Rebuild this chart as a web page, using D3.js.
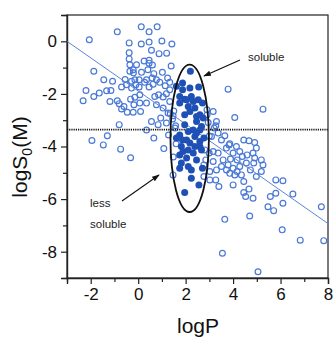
<html>
  <head>
    <meta charset="utf-8" />
    <style>
      body { margin: 0; background: #fff; }
      text { font-family: "Liberation Sans", Arial, sans-serif; }
    </style>
  </head>
  <body>
    <svg></svg>
    <script src="https://d3js.org/d3.v7.min.js"></script>
    <script>
      let width = 334,
        height = 337;

      // open circles (logP, logS0)
      let openX = [-2.06, -0.88, 0.13, 0.8, 0.46, -0.38, 0.13, 0.46, 1.0, 1.42, 0.88, 0.56, -0.38, -0.38, 0.46, 0.46,
        1.39, -1.87, -0.35, -0.21, -0.07, -0.35, 0.14, 0.41, 0.66, 1.02, 1.24, 0.77, 0.59, 0.35, 0.04, -0.14, -0.28,
        -1.45, -1.08, -2.2, -2.32, -1.87, -1.64, -1.33, -1.15, -1.19, -0.88, -0.8, -0.6, -0.7, -0.49, -0.28, -0.1,
        0.04, 0.27, 0.46, 0.63, 0.91, 1.14, 1.33, -0.32, -0.14, 0.07, -0.18, 0.07, -0.7, -0.46, -0.21, 0.1, 0.7, 0.86,
        1.05, 1.19, 1.33, 1.33, 1.05, 1.26, 0.95, 0.77, 0.35, -0.8, 0.35, 0.56, 0.84, 1.19, 1.47, 1.58, 1.28, 0.66,
        1.08, -1.95, -1.47, -1.3, -0.74, -0.32, 1.47, 3.79, 4.07, 5.26, 3.16, 3.3, 3.27, 2.95, 3.09, 3.37, 3.65, 3.83,
        3.72, 3.51, 3.86, 4.14, 4.45, 4.67, 4.91, 4.98, 4.84, 4.91, 4.28, 4.0, 3.89, 4.17, 4.39, 4.59, 4.56, 4.87,
        5.19, 5.26, 5.19, 4.98, 4.28, 4.17, 4.0, 3.79, 3.58, 3.37, 3.16, 2.99, 2.81, 2.85, 3.16, 3.3, 3.51, 3.72,
        3.02, 2.77, 3.02, 3.27, 3.4, 2.77, 4.0, 4.45, 4.45, 4.67, 4.53, 4.84, 4.7, 3.65, 3.55, 5.05, 5.8, 6.1, 5.57,
        5.8, 5.47, 5.71, 6.1, 6.52, 6.07, 6.83, 7.72, 7.82, 4.73, 4.35, 4.07, 3.86, 1.5, 1.45, 1.55, 1.6, 1.48,
        -0.55, -0.2, 0.25, 0.6, 1.2, 1.35, 2.9, 3.0, 3.2, 2.9];
      let openY = [0.06, 0.36, 0.55, 0.55, 0.36, -0.06, -0.1, -0.03, 0.01, -0.1, -0.47, -0.34, -0.44, -0.67, -0.72,
        -0.83, -0.94, -1.14, -0.89, -1.08, -0.89, -1.14, -1.18, -1.08, -1.23, -1.18, -1.4, -1.46, -1.4, -1.46, -1.46,
        -1.46, -1.52, -1.46, -1.52, -1.87, -2.26, -2.1, -1.97, -1.88, -1.87, -2.29, -2.26, -2.37, -2.48, -1.74, -1.65,
        -1.78, -1.65, -1.74, -1.56, -1.74, -1.63, -1.56, -1.69, -1.56, -2.2, -2.13, -2.03, -2.41, -2.35, -2.57, -2.7,
        -2.7, -2.67, -2.1, -2.03, -2.12, -1.99, -1.84, -2.29, -2.54, -2.73, -2.92, -2.41, -2.35, -3.17, -3.37, -3.05,
        -3.17, -3.11, -2.83, -3.21, -3.56, -3.68, -4.08, -3.77, -3.94, -3.59, -4.1, -4.43, -5.08, -1.82, -2.9, -2.58,
        -2.67, -3.05, -3.21, -3.09, -3.62, -3.49, -3.59, -3.94, -4.06, -3.75, -3.9, -4.0, -3.75, -3.78, -3.85, -4.06,
        -4.25, -4.44, -4.19, -4.25, -4.48, -4.51, -4.38, -4.32, -4.63, -4.63, -4.51, -4.7, -4.95, -5.14, -4.76, -4.95,
        -4.83, -4.7, -4.51, -4.25, -4.19, -4.25, -4.13, -4.51, -4.57, -4.89, -4.76, -4.89, -4.95, -4.7, -5.27, -5.27,
        -5.52, -5.14, -5.46, -5.33, -5.75, -5.62, -5.9, -5.97, -6.64, -6.77, -8.06, -8.76, -5.27, -5.3, -5.9, -5.78,
        -6.29, -6.44, -6.16, -5.81, -7.17, -7.56, -6.29, -7.58, -4.89, -5.08, -5.08, -5.02, -2.65, -2.95, -3.3,
        -3.9, -4.4, -1.45, -1.2, -0.75, -0.9, -0.45, -2.75, -2.8, -3.6, -3.3, -2.6];

      // filled circles (compounds inside the ellipse)
      let filledX = [2.2, 1.87, 2.18, 2.55, 1.61, 1.75, 1.96, 2.24, 2.53, 2.71, 1.75, 2.11, 2.39, 2.18, 2.6, 2.74,
        2.46, 2.67, 2.32, 1.96, 1.75, 1.61, 2.04, 2.39, 2.6, 2.77, 1.82, 2.11, 2.39, 2.67, 1.75, 2.04, 1.82, 2.11,
        1.75, 2.24, 2.24, 2.56, 1.96, 2.71, 2.6, 1.87, 2.04, 2.32, 1.96, 2.46, 2.11, 1.87, 2.32, 2.46, 1.89, 2.46,
        2.18, 2.6];
      let filledY = [-1.14, -1.59, -1.78, -1.74, -1.71, -2.1, -2.2, -2.1, -2.22, -2.35, -2.35, -2.48, -2.54, -2.67,
        -2.79, -2.92, -3.05, -3.24, -3.37, -3.17, -3.56, -3.68, -3.75, -3.62, -3.81, -3.68, -4.0, -4.13, -4.0, -4.13,
        -4.32, -4.44, -4.63, -4.76, -4.83, -4.89, -5.21, -5.46, -5.75, -4.83, -3.37, -1.84, -2.22, -2.29, -2.79,
        -2.86, -3.43, -3.75, -4.25, -4.51, -4.19, -3.49, -3.87, -4.0];

      let xTicks = [-2, 0, 2, 4, 6, 8];
      let yTicks = [0, -2, -4, -6, -8];

      // regression line, solubility threshold, ellipse
      let fitSlope = -0.63,
        fitIntercept = -1.89;
      let threshold = -3.36;
      let ellipse = { cx: 2.17, cy: -3.69, rx: 0.81, ry: 2.8 };

      let svg = d3.select("svg").attr("width", width).attr("height", height);

      let x = d3.scaleLinear().domain([-3, 8]).range([67, 328]);
      let y = d3.scaleLinear().domain([-9, 1]).range([278, 15]);

      svg.append("defs").append("marker")
        .attr("id", "arrow")
        .attr("viewBox", "0 0 10 10")
        .attr("refX", 9).attr("refY", 5)
        .attr("markerWidth", 7).attr("markerHeight", 7)
        .attr("orient", "auto")
        .append("path")
        .attr("d", "M0,1.5 L10,5 L0,8.5 Z")
        .attr("fill", "#111");

      // frame
      svg.append("rect")
        .attr("x", x(-3)).attr("y", y(1))
        .attr("width", x(8) - x(-3)).attr("height", y(-9) - y(1))
        .attr("fill", "none").attr("stroke", "#222").attr("stroke-width", 1.2);

      // axes
      let xAxis = svg.append("g")
        .attr("transform", `translate(0,${y(-9)})`)
        .call(d3.axisBottom(x).tickValues(d3.range(-3, 9)).tickSize(6).tickFormat(""));
      xAxis.selectAll(".tick line").attr("y2", (d) => (d % 2 === 0 ? 6 : 4));
      svg.append("g")
        .attr("transform", `translate(0,${y(-9)})`)
        .call(d3.axisBottom(x).tickValues(xTicks).tickSize(0).tickPadding(10).tickFormat((d) => String(d)))
        .call((g) => g.select(".domain").remove());

      let yAxis = svg.append("g")
        .attr("transform", `translate(${x(-3)},0)`)
        .call(d3.axisLeft(y).tickValues(d3.range(-9, 2)).tickSize(6).tickFormat(""));
      yAxis.selectAll(".tick line").attr("x2", (d) => (d % 2 === 0 ? -6 : -4));
      svg.append("g")
        .attr("transform", `translate(${x(-3)},0)`)
        .call(d3.axisLeft(y).tickValues(yTicks).tickSize(0).tickPadding(10).tickFormat((d) => String(d)))
        .call((g) => g.select(".domain").remove());

      svg.selectAll(".domain").attr("stroke", "#222").attr("stroke-width", 1.4);
      svg.selectAll(".tick line").attr("stroke", "#222").attr("stroke-width", 1.2);
      svg.selectAll(".tick text").attr("font-size", 17).attr("fill", "#111")
        .attr("font-family", "'Liberation Sans', Arial, sans-serif");

      // open circles
      svg.append("g").selectAll("circle")
        .data(openX.map((d, i) => [d, openY[i]]))
        .enter().append("circle")
        .attr("cx", (d) => x(d[0])).attr("cy", (d) => y(d[1]))
        .attr("r", 2.9)
        .attr("fill", "none")
        .attr("stroke", "#4a78d6")
        .attr("stroke-width", 1.2);

      // regression line
      svg.append("line")
        .attr("x1", x(-3)).attr("y1", y(fitSlope * -3 + fitIntercept))
        .attr("x2", x(8)).attr("y2", y(fitSlope * 8 + fitIntercept))
        .attr("stroke", "#5a85d8").attr("stroke-width", 1);

      // threshold
      svg.append("line")
        .attr("x1", x(-3)).attr("x2", x(8))
        .attr("y1", y(threshold)).attr("y2", y(threshold))
        .attr("stroke", "#111").attr("stroke-width", 1.6)
        .attr("stroke-dasharray", "1.2,1");

      // filled circles
      svg.append("g").selectAll("circle")
        .data(filledX.map((d, i) => [d, filledY[i]]))
        .enter().append("circle")
        .attr("cx", (d) => x(d[0])).attr("cy", (d) => y(d[1]))
        .attr("r", 3.5)
        .attr("fill", "#1f50b5");

      // ellipse
      svg.append("ellipse")
        .attr("cx", x(ellipse.cx)).attr("cy", y(ellipse.cy))
        .attr("rx", x(ellipse.cx + ellipse.rx) - x(ellipse.cx))
        .attr("ry", y(ellipse.cy - ellipse.ry) - y(ellipse.cy))
        .attr("fill", "none").attr("stroke", "#111").attr("stroke-width", 1.8);

      // annotations
      svg.append("text").attr("x", 248).attr("y", 61).attr("font-size", 11.5).attr("fill", "#222").text("soluble");
      svg.append("line").attr("x1", 240).attr("y1", 60).attr("x2", 204).attr("y2", 76)
        .attr("stroke", "#111").attr("stroke-width", 1.1).attr("marker-end", "url(#arrow)");
      svg.append("text").attr("x", 90).attr("y", 207).attr("font-size", 11.5).attr("fill", "#222").text("less");
      svg.append("text").attr("x", 90).attr("y", 228).attr("font-size", 11.5).attr("fill", "#222").text("soluble");
      svg.append("line").attr("x1", 122).attr("y1", 201).attr("x2", 159).attr("y2", 175)
        .attr("stroke", "#111").attr("stroke-width", 1.1).attr("marker-end", "url(#arrow)");

      // axis titles
      svg.append("text")
        .attr("x", 198).attr("y", 333)
        .attr("text-anchor", "middle").attr("font-size", 21).attr("fill", "#111")
        .text("logP");
      let yt = svg.append("text")
        .attr("transform", "translate(27,157) rotate(-90)")
        .attr("text-anchor", "middle").attr("font-size", 21).attr("fill", "#111");
      yt.append("tspan").text("logS");
      yt.append("tspan").attr("font-size", 14).attr("dy", 5).text("0");
      yt.append("tspan").attr("dy", -5).text("(M)");
    </script>
  </body>
</html>
